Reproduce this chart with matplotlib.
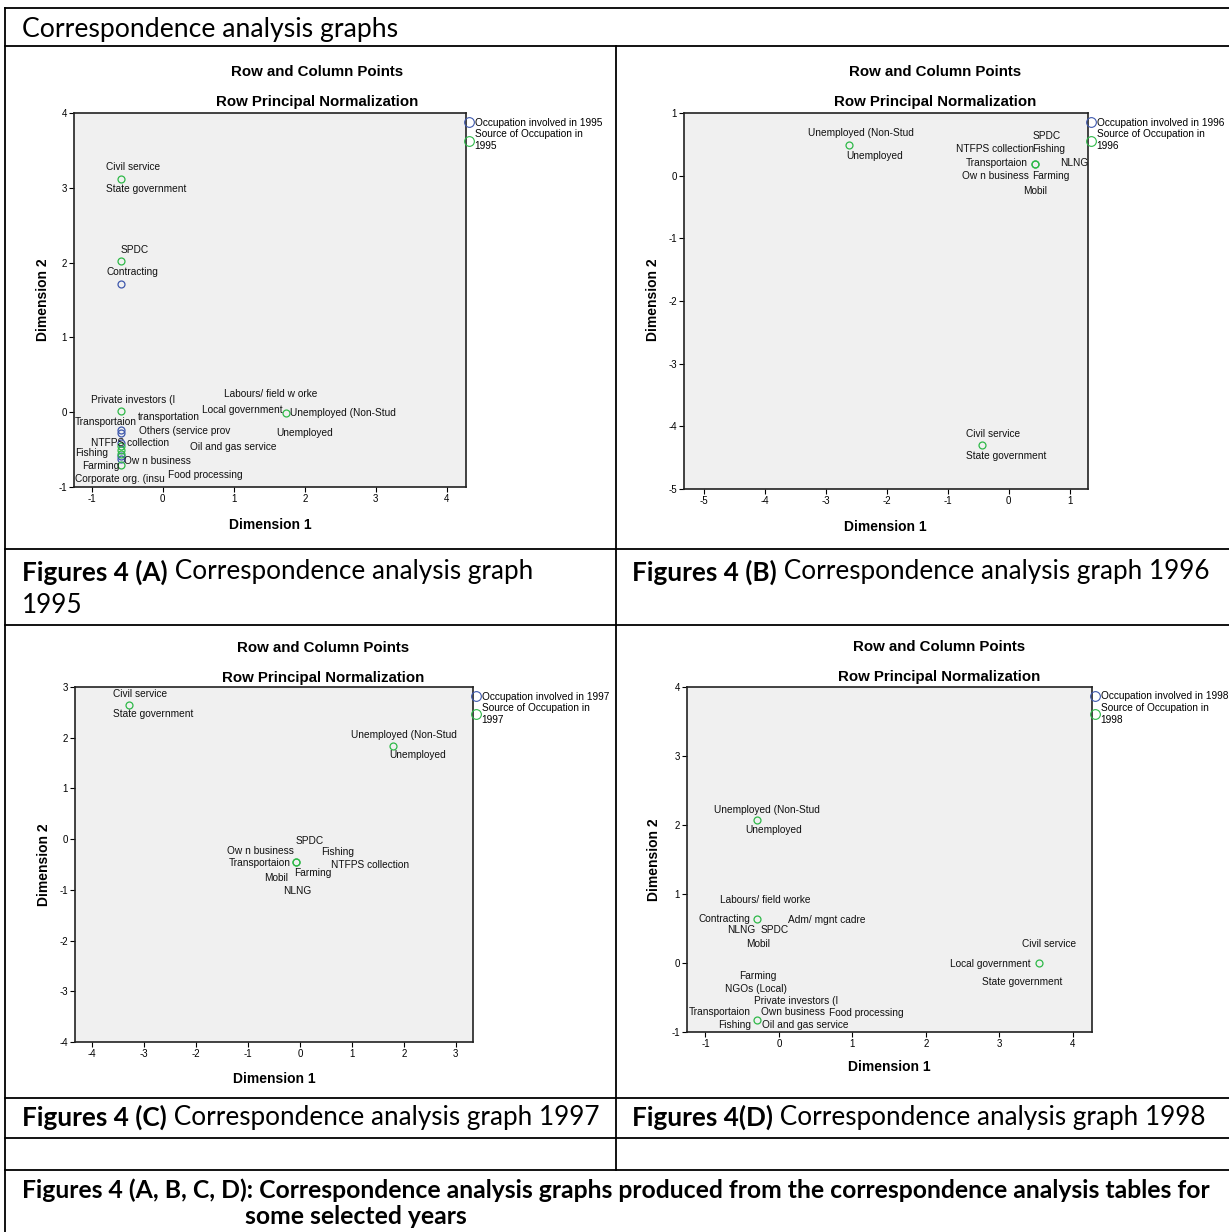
import matplotlib
matplotlib.use('Agg')
import matplotlib.pyplot as plt
from matplotlib.lines import Line2D

plt.rcParams['axes.unicode_minus'] = False

## --- data ---
# (A) 1995
a_occ_x = [-0.59, -0.59, -0.59, -0.59, -0.59, -0.59]
a_occ_y = [1.71, -0.24, -0.28, -0.41, -0.58, -0.62]
a_src_x = [-0.59, -0.59, -0.59, -0.59, -0.59, -0.59, -0.59, 1.73]
a_src_y = [3.12, 2.02, 0.02, -0.45, -0.50, -0.56, -0.70, -0.01]
a_labels = ['Civil service', 'State government', 'SPDC', 'Contracting',
            'Private investors (I', 'Labours/ field w orke', 'Local government',
            'Unemployed (Non-Stud', 'Unemployed', 'transportation',
            'Transportaion', 'Others (service prov', 'NTFPS collection',
            'Oil and gas service', 'Fishing', 'Ow n business', 'Farming',
            'Food processing', 'Corporate org. (insu']
a_lab_x = [-0.80, -0.80, -0.59, -0.79, -1.01, 0.86, 0.55, 1.79, 1.60, -0.35,
           -1.24, -0.34, -1.01, 0.39, -1.24, -0.54, -1.13, 0.07, -1.24]
a_lab_y = [3.28, 2.98, 2.17, 1.87, 0.16, 0.24, 0.03, -0.01, -0.28, -0.06,
           -0.13, -0.25, -0.41, -0.47, -0.55, -0.65, -0.72, -0.84, -0.89]

# (B) 1996
b_occ_x, b_occ_y = [], []
b_src_x = [-2.62, 0.43, 0.43, -0.44]
b_src_y = [0.49, 0.19, 0.19, -4.30]
b_labels = ['Unemployed (Non-Stud', 'Unemployed', 'SPDC', 'NTFPS collection',
            'Fishing', 'Transportaion', 'NLNG', 'Ow n business', 'Farming',
            'Mobil', 'Civil service', 'State government']
b_lab_x = [-3.30, -2.67, 0.39, -0.87, 0.39, -0.70, 0.85, -0.77, 0.39, 0.23,
           -0.70, -0.70]
b_lab_y = [0.68, 0.32, 0.64, 0.43, 0.43, 0.21, 0.21, -0.01, -0.01, -0.24,
           -4.13, -4.48]

# (C) 1997
c_occ_x, c_occ_y = [], []
c_src_x = [-3.29, -0.08, -0.08, 1.79]
c_src_y = [2.65, -0.45, -0.45, 1.84]
c_labels = ['Civil service', 'State government', 'Unemployed (Non-Stud',
            'Unemployed', 'SPDC', 'Ow n business', 'Fishing', 'Transportaion',
            'NTFPS collection', 'Farming', 'Mobil', 'NLNG']
c_lab_x = [-3.60, -3.60, 0.98, 1.71, -0.08, -1.40, 0.40, -1.37, 0.60, -0.12,
           -0.69, -0.33]
c_lab_y = [2.86, 2.47, 2.06, 1.65, -0.04, -0.24, -0.25, -0.47, -0.51, -0.67,
           -0.76, -1.02]

# (D) 1998
d_occ_x, d_occ_y = [], []
d_src_x = [-0.30, -0.30, -0.30, 3.54]
d_src_y = [2.07, 0.64, -0.82, 0.00]
d_labels = ['Unemployed (Non-Stud', 'Unemployed', 'Labours/ field worke',
            'Contracting', 'Adm/ mgnt cadre', 'NLNG', 'SPDC', 'Mobil',
            'Farming', 'NGOs (Local)', 'Private investors (I', 'Transportaion',
            'Own business', 'Food processing', 'Fishing', 'Oil and gas service',
            'Civil service', 'Local government', 'State government']
d_lab_x = [-0.88, -0.46, -0.80, -1.09, 0.12, -0.71, -0.25, -0.45, -0.54,
           -0.73, -0.34, -1.22, -0.25, 0.68, -0.82, -0.23, 3.31, 2.33, 2.76]
d_lab_y = [2.22, 1.93, 0.91, 0.64, 0.62, 0.48, 0.48, 0.27, -0.19, -0.38,
           -0.55, -0.71, -0.71, -0.73, -0.90, -0.90, 0.28, -0.01, -0.27]

years = ['1995', '1996', '1997', '1998']

W, H = 1229, 1232
BLUE = '#3e58ac'
GREEN = '#2eb848'
LAB_FONT = 'Liberation Sans'
DOC_FONT = 'Lato'

fig = plt.figure(figsize=(W / 100, H / 100), dpi=100)
fig.patch.set_facecolor('white')


def rect(x0, y0, x1, y1):
    return [x0 / W, 1 - y1 / H, (x1 - x0) / W, (y1 - y0) / H]


def ftext(x, y, s, **kw):
    return fig.text(x / W, 1 - y / H, s, **kw)


def hline(y, x0=5, x1=W):
    fig.add_artist(Line2D([x0 / W, x1 / W], [1 - y / H, 1 - y / H],
                          color='black', lw=1.3))


def vline(x, y0, y1):
    fig.add_artist(Line2D([x / W, x / W], [1 - y0 / H, 1 - y1 / H],
                          color='black', lw=1.3))


# plot configs: box in pixels, limits, ticks, title / axis label positions
plots = [
    dict(box=(74, 113, 466, 487), xlim=(-1.25, 4.27), ylim=(-1, 4),
         xt=range(-1, 5), yt=range(-1, 5), cx=317, dim2=(43, 300),
         dim1=(270, 525), top=72,
         occ=(a_occ_x, a_occ_y), src=(a_src_x, a_src_y),
         lab=(a_labels, a_lab_x, a_lab_y)),
    dict(box=(684, 113, 1088, 489), xlim=(-5.33, 1.30), ylim=(-5, 1),
         xt=range(-5, 2), yt=range(-5, 2), cx=935, dim2=(653, 300),
         dim1=(885, 527), top=72,
         occ=(b_occ_x, b_occ_y), src=(b_src_x, b_src_y),
         lab=(b_labels, b_lab_x, b_lab_y)),
    dict(box=(75, 687, 473, 1042), xlim=(-4.33, 3.33), ylim=(-4, 3),
         xt=range(-4, 4), yt=range(-4, 4), cx=323, dim2=(44, 865),
         dim1=(274, 1079), top=648,
         occ=(c_occ_x, c_occ_y), src=(c_src_x, c_src_y),
         lab=(c_labels, c_lab_x, c_lab_y)),
    dict(box=(687, 687, 1092, 1032), xlim=(-1.25, 4.26), ylim=(-1, 4),
         xt=range(-1, 5), yt=range(-1, 5), cx=939, dim2=(654, 860),
         dim1=(889, 1067), top=647,
         occ=(d_occ_x, d_occ_y), src=(d_src_x, d_src_y),
         lab=(d_labels, d_lab_x, d_lab_y)),
]

for p, yr in zip(plots, years):
    ax = fig.add_axes(rect(*p['box']))
    ax.set_facecolor('#f0f0f0')
    ax.plot(*p['occ'], 'o', mfc='none', mec=BLUE, ms=5, mew=0.9)
    ax.plot(*p['src'], 'o', mfc='none', mec=GREEN, ms=5, mew=0.9)
    names, lx, ly = p['lab']
    for s, x, y in zip(names, lx, ly):
        ax.text(x, y, s, ha='left', va='center', fontsize=7.3,
                family=LAB_FONT, color='#111111')
    ax.set_xlim(*p['xlim'])
    ax.set_ylim(*p['ylim'])
    ax.set_xticks(list(p['xt']))
    ax.set_yticks(list(p['yt']))
    ax.tick_params(labelsize=7, length=3.5, width=0.8, pad=1.5)
    for lbl in ax.get_xticklabels() + ax.get_yticklabels():
        lbl.set_family(LAB_FONT)
    for sp in ax.spines.values():
        sp.set_linewidth(1.2)
        sp.set_color('#222222')
    handles = [Line2D([], [], marker='o', ls='none', mfc='none', mec=BLUE,
                      ms=7, mew=0.8),
               Line2D([], [], marker='o', ls='none', mfc='none', mec=GREEN,
                      ms=7, mew=0.8)]
    ax.legend(handles, ['Occupation involved in ' + yr,
                        'Source of Occupation in\n' + yr],
              loc='upper left', bbox_to_anchor=(0.995, 0.99), frameon=False,
              prop=dict(family=LAB_FONT, size=7.3), handlelength=0.8,
              handletextpad=0.15, borderaxespad=0.1, labelspacing=0.15,
              borderpad=0)
    ftext(p['cx'], p['top'], 'Row and Column Points', ha='center',
          va='center', fontsize=10.8, weight='bold', family=LAB_FONT)
    ftext(p['cx'], p['top'] + 30, 'Row Principal Normalization', ha='center',
          va='center', fontsize=10.8, weight='bold', family=LAB_FONT)
    ftext(p['dim2'][0], p['dim2'][1], 'Dimension 2', ha='center',
          va='center', rotation=90, fontsize=10, weight='bold',
          family=LAB_FONT)
    ftext(p['dim1'][0], p['dim1'][1], 'Dimension 1', ha='center',
          va='center', fontsize=10, weight='bold', family=LAB_FONT)

## table frame
hline(8)
hline(46)
hline(549)
hline(625)
hline(1098)
hline(1138)
hline(1170)
vline(5, 8, H)
vline(616, 46, 1170)

renderer = fig.canvas.get_renderer()


def rich(x, y, parts, size=18.8):
    for s, wt in parts:
        t = ftext(x, y, s, ha='left', va='center', fontsize=size,
                  weight=wt, family=DOC_FONT)
        x += t.get_window_extent(renderer).width


rich(22, 30, [('Correspondence analysis graphs', 'normal')], size=19.2)
rich(22, 572, [('Figures 4 (A)', 'bold'),
               (' Correspondence analysis graph', 'normal')])
rich(22, 606, [('1995', 'normal')])
rich(632, 572, [('Figures 4 (B)', 'bold'),
                (' Correspondence analysis graph 1996', 'normal')])
rich(22, 1117, [('Figures 4 (C)', 'bold'),
                (' Correspondence analysis graph 1997', 'normal')])
rich(632, 1117, [('Figures 4(D)', 'bold'),
                 (' Correspondence analysis graph 1998', 'normal')])
rich(22, 1190, [('Figures 4 (A, B, C, D): Correspondence analysis graphs '
                 'produced from the correspondence analysis tables for',
                 'bold')], size=17.8)
rich(245, 1216, [('some selected years', 'bold')], size=17.8)

fig.savefig('out.png', dpi=100)
